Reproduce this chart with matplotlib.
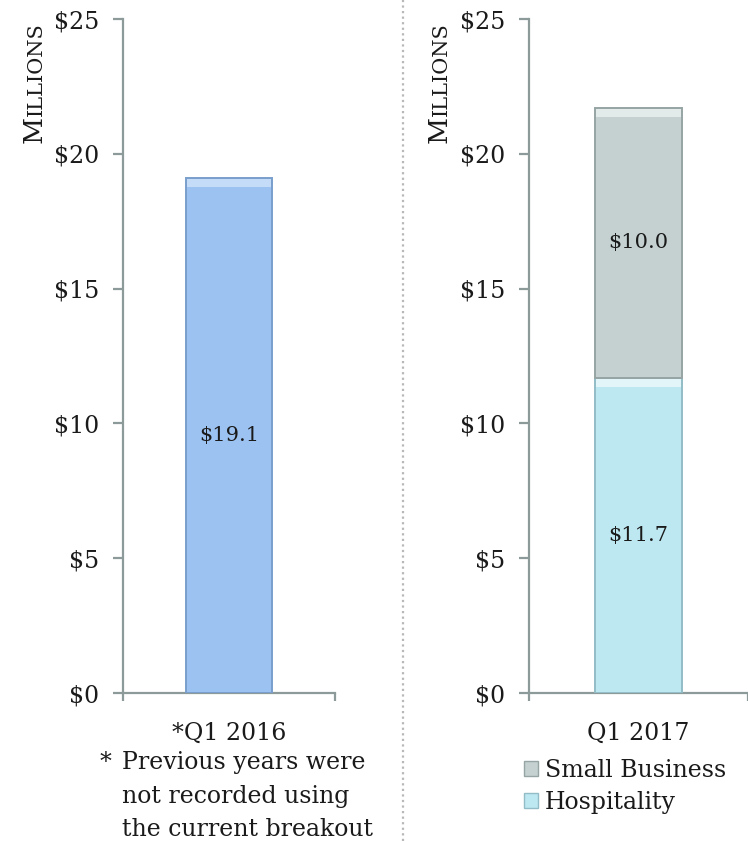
import numpy as np
import matplotlib
matplotlib.use("Agg")
import matplotlib.pyplot as plt
from matplotlib.patches import Patch
from matplotlib.lines import Line2D

# data
left_cat = ["*Q1 2016"]
left_total = [19.1]
right_cat = ["Q1 2017"]
hospitality = [11.7]
small_business = [10.0]
yticks = [0, 5, 10, 15, 20, 25]
ytick_labels = ["$0", "$5", "$10", "$15", "$20", "$25"]
footnote = ["Previous years were", "not recorded using", "the current breakout"]

plt.rcParams['font.family'] = ['DejaVu Serif']
txt = '#1a1a1a'
spine_c = '#8c9a9a'

W, H = 748, 841
fig = plt.figure(figsize=(W / 100, H / 100), dpi=100)


def px(x0, y_top, x1, y_bot):
    return [x0 / W, 1 - y_bot / H, (x1 - x0) / W, (y_bot - y_top) / H]


def bevel_bar(ax, x, bottom, height, width, face, edge, light):
    # plain bar plus a darker outline and a light strip at the top
    ax.bar(x, height, width, bottom=bottom, color=face, edgecolor=edge, linewidth=1.4, zorder=3)
    strip = 0.3
    ax.bar(x, strip, width * 0.96, bottom=bottom + height - strip - 0.04, color=light,
           linewidth=0, zorder=4)


def style_axes(ax):
    ax.set_xlim(-0.5, 0.5)
    ax.set_ylim(0, 25)
    for s in ['top', 'right']:
        ax.spines[s].set_visible(False)
    for s in ['left', 'bottom']:
        ax.spines[s].set_color(spine_c)
        ax.spines[s].set_linewidth(1.6)
    ax.set_yticks(yticks, ytick_labels)
    ax.tick_params(axis='y', length=7, width=1.6, color=spine_c, pad=10,
                   labelsize=17, labelcolor=txt)
    ax.set_xticks([-0.5, 0.5], ["", ""])
    ax.tick_params(axis='x', which='major', length=6, width=1.6, color=spine_c)
    ax.tick_params(axis='x', which='minor', length=0, pad=21, labelsize=17, labelcolor=txt)


ax1 = fig.add_axes(px(123, 19, 335, 693))
ax2 = fig.add_axes(px(529, 19, 748, 693))
for ax in (ax1, ax2):
    style_axes(ax)
ax2.spines['bottom'].set_clip_on(False)

# left panel
bevel_bar(ax1, 0, 0, left_total[0], 0.41, '#9cc2f1', '#7a9fcc', '#c4dcf8')
ax1.set_xticks([0], left_cat, minor=True)
ax1.text(0, left_total[0] / 2, f"${left_total[0]:.1f}", ha='center', va='center',
         fontsize=15, color=txt, zorder=5)

# right panel
bevel_bar(ax2, 0, 0, hospitality[0], 0.40, '#bee8f1', '#92bcc6', '#e2f6fa')
bevel_bar(ax2, 0, hospitality[0], small_business[0], 0.40, '#c5d1d1', '#96a4a4', '#e3eaea')
ax2.set_xticks([0], right_cat, minor=True)
ax2.text(0, hospitality[0] / 2, f"${hospitality[0]:.1f}", ha='center', va='center',
         fontsize=15, color=txt, zorder=5)
ax2.text(0, hospitality[0] + small_business[0] / 2, f"${small_business[0]:.1f}",
         ha='center', va='center', fontsize=15, color=txt, zorder=5)

handles = [Patch(facecolor='#c5d1d1', edgecolor='#96a4a4'),
           Patch(facecolor='#bee8f1', edgecolor='#92bcc6')]
fig.legend(handles, ["Small Business", "Hospitality"], loc='upper left',
           bbox_to_anchor=(512 / W, 1 - 747 / H), frameon=False, fontsize=17,
           handlelength=0.6, handleheight=0.6, handletextpad=0.3, labelspacing=0.4,
           borderpad=0, labelcolor=txt)

# footnote
fig.text(100 / W, 1 - 763 / H, "*", ha='left', va='center', fontsize=17, color=txt)
for i, line in enumerate(footnote):
    fig.text(122 / W, 1 - (763 + 33 * i) / H, line, ha='left', va='center',
             fontsize=17, color=txt)

# dotted separator
fig.add_artist(Line2D([403 / W, 403 / W], [0.0, 1.0], transform=fig.transFigure,
                      color='#b8b8b8', linestyle=(0, (1, 1.5)), linewidth=1.6))

# small caps "Millions" labels
for xb in (42, 447):
    t1 = fig.text(xb / W, 1 - 143 / H, "M", rotation=90, rotation_mode='anchor',
                  ha='left', va='baseline', fontsize=19, color=txt)
    fig.canvas.draw()
    bb = t1.get_window_extent()
    fig.text(xb / W, bb.y1 / H, "ILLIONS", rotation=90, rotation_mode='anchor',
             ha='left', va='baseline', fontsize=15, color=txt)

fig.savefig("out.png", dpi=100)
